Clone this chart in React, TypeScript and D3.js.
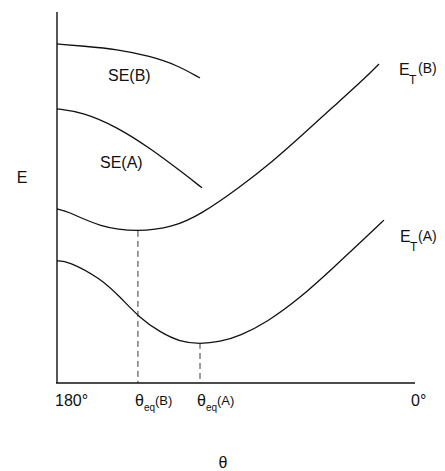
import React, { useEffect, useRef } from "react";
import * as d3 from "d3";

// curve points: theta in degrees, E in arbitrary units (0..100)
const seB_theta = [180, 166.9, 149.8, 133.2, 119.7, 108.1];
const seB_E = [91.4, 90.8, 90.0, 88.1, 85.7, 82.2];

const seA_theta = [180, 166.9, 149.8, 133.2, 116.6, 107.1];
const seA_E = [73.9, 73.0, 69.0, 63.3, 56.6, 52.6];

const etB_theta = [180, 175.0, 158.4, 139.3, 121.7, 108.1, 88.0, 71.4, 57.8, 41.2, 24.1, 18.1];
const etB_E = [46.9, 46.4, 42.0, 40.7, 42.0, 45.3, 52.8, 59.8, 66.3, 74.4, 82.7, 86.0];

const etA_theta = [180, 174.5, 158.4, 148.3, 138.3, 128.2, 118.2, 108.1, 98.0, 88.0, 74.4, 57.8, 41.2, 24.1, 15.6];
const etA_E = [32.9, 32.9, 28.3, 23.2, 17.5, 13.7, 11.1, 10.5, 11.1, 12.7, 16.4, 22.9, 31.0, 39.6, 43.9];

// equilibrium angles (dashed drop lines)
const eqTheta = [139.3, 108.1];
const eqE = [41.0, 10.8];
const eqNames = ["B", "A"];

const FONT = "'Liberation Sans', Arial, sans-serif";

const drawChart = (el: SVGSVGElement) => {
  const svg = d3.select(el);
  svg.selectAll("*").remove();

  const x = d3.scaleLinear().domain([180, 0]).range([57, 415]);
  const y = d3.scaleLinear().domain([0, 100]).range([383, 12]);

  const line = d3
    .line<[number, number]>()
    .x(d => x(d[0]))
    .y(d => y(d[1]))
    .curve(d3.curveBasis);

  const curves = [
    [seB_theta, seB_E],
    [seA_theta, seA_E],
    [etB_theta, etB_E],
    [etA_theta, etA_E],
  ];
  curves.forEach(([t, e]) => {
    svg
      .append("path")
      .attr("d", line(t.map((v, i) => [v, e[i]] as [number, number])))
      .attr("fill", "none")
      .attr("stroke", "#111")
      .attr("stroke-width", 1.3);
  });

  // axes
  svg
    .append("line")
    .attr("x1", x(180)).attr("x2", x(180))
    .attr("y1", y(100)).attr("y2", y(0))
    .attr("stroke", "#111").attr("stroke-width", 1.4);
  svg
    .append("line")
    .attr("x1", x(180) - 1).attr("x2", x(0))
    .attr("y1", y(0)).attr("y2", y(0))
    .attr("stroke", "#111").attr("stroke-width", 1.6);

  // dashed drop lines
  eqTheta.forEach((t, i) => {
    svg
      .append("line")
      .attr("x1", x(t)).attr("x2", x(t))
      .attr("y1", y(eqE[i])).attr("y2", y(0))
      .attr("stroke", "#222").attr("stroke-width", 0.9)
      .attr("stroke-dasharray", "6,4");
  });

  const txt = (px: number, py: number, s: string, size = 16, anchor = "start") =>
    svg
      .append("text")
      .attr("x", px).attr("y", py)
      .attr("font-family", FONT)
      .attr("font-size", size)
      .attr("text-anchor", anchor)
      .attr("fill", "#111")
      .text(s);

  // tick labels
  txt(x(180) - 2, 406, "180°");
  txt(x(0) - 4, 406, "0°");
  eqTheta.forEach((t, i) => {
    const t0 = x(t) - 3;
    txt(t0, 406, "θ", 16);
    txt(t0 + 9, 411, "eq", 10);
    txt(t0 + 20, 405, `(${eqNames[i]})`, 13);
  });

  // axis titles
  txt(22, 183, "E", 16, "middle");
  txt(223, 468, "θ", 16, "middle");

  // curve labels
  txt(108, 81, "SE(B)");
  txt(100, 168, "SE(A)");
  txt(399, 75, "E");
  txt(409, 84, "T", 12);
  txt(418, 73, "(B)", 14);
  txt(400, 242, "E");
  txt(410, 251, "T", 12);
  txt(418, 241, "(A)", 14);
};

export default function App() {
  const ref = useRef<SVGSVGElement>(null);
  useEffect(() => {
    if (ref.current) drawChart(ref.current);
  }, []);
  return (
    <svg
      ref={ref}
      width={445}
      height={471}
      style={{ position: "absolute", left: 0, top: 0, background: "#fff" }}
    />
  );
}
